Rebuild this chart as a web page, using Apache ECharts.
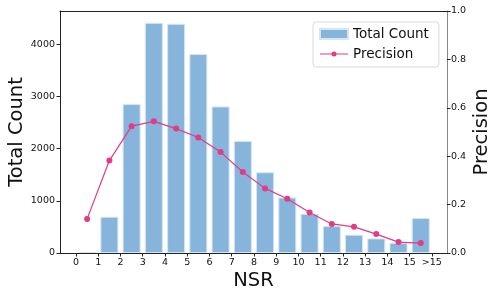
<!DOCTYPE html>
<html>
<head>
<meta charset="utf-8">
<script src="https://cdn.jsdelivr.net/npm/echarts@6/dist/echarts.min.js"></script>
<style>html,body{margin:0;padding:0;background:#fff}#c{width:498px;height:299px}</style>
</head>
<body>
<div id="c"></div>
<script>
// Data
const tickLabels = ['0','1','2','3','4','5','6','7','8','9','10','11','12','13','14','15','>15'];
const binCenters = [0.5,1.5,2.5,3.5,4.5,5.5,6.5,7.5,8.5,9.5,10.5,11.5,12.5,13.5,14.5,15.5];
const totalCount = [20,695,2855,4413,4394,3814,2810,2147,1548,1064,752,517,350,280,197,670];
const precision = [0.141,0.382,0.524,0.544,0.514,0.477,0.417,0.335,0.267,0.224,0.167,0.120,0.108,0.078,0.045,0.041];

const font = 'DejaVu Sans';
const chart = echarts.init(document.getElementById('c'), null, {renderer:'canvas'});
const tickVals = tickLabels.map((_, i) => i);
chart.setOption({
  animation: false,
  textStyle: {fontFamily: font},
  grid: {left: 60, top: 11, right: 51, bottom: 46, containLabel: false, outerBoundsMode: 'none'},
  legend: {
    orient: 'vertical', left: 313, top: 22,
    padding: [5, 10, 6, 6], itemGap: 6, itemWidth: 28, itemHeight: 10,
    symbolKeepAspect: true,
    backgroundColor: 'rgba(255,255,255,0.8)', borderColor: '#d9d9d9', borderWidth: 1, borderRadius: 3,
    textStyle: {fontFamily: font, fontSize: 13.5, color: '#111', lineHeight: 14},
    data: [
      {name:'Total Count', icon:'rect'},
      {name:'Precision', icon:'path://M0,2H28V3H0Z M16.5,2.5A2.5,2.5 0 1 1 11.5,2.5A2.5,2.5 0 1 1 16.5,2.5Z'}
    ]
  },
  xAxis: [{
    type: 'value', min: -0.72, max: 16.68,
    name: 'NSR', nameLocation: 'middle', nameGap: 18, nameMoveOverlap: false,
    nameTextStyle: {fontFamily: font, fontSize: 19.5, color: '#111'},
    axisLine: {show: true, onZero: false, lineStyle: {color: '#222', width: 1}},
    axisTick: {show: true, length: 3.5, customValues: tickVals, lineStyle: {color: '#222'}},
    axisLabel: {customValues: tickVals, formatter: v => tickLabels[Math.round(v)], fontFamily: font, fontSize: 9.5, color: '#111', margin: 5},
    splitLine: {show: false}
  }, {
    type: 'value', position: 'top', min: -0.72, max: 16.68,
    axisLine: {show: true, onZero: false, lineStyle: {color: '#222', width: 1}},
    axisTick: {show: false}, axisLabel: {show: false}, splitLine: {show: false}
  }],
  yAxis: [{
    type: 'value', min: 0, max: 4640, interval: 1000, position: 'left',
    name: 'Total Count', nameLocation: 'middle', nameGap: 33, nameMoveOverlap: false,
    nameTextStyle: {fontFamily: font, fontSize: 19.5, color: '#111'},
    axisLine: {show: true, onZero: false, lineStyle: {color: '#222', width: 1}},
    axisTick: {show: true, length: 3.5, lineStyle: {color: '#222'}},
    axisLabel: {fontFamily: font, fontSize: 9.5, color: '#111', margin: 5, showMaxLabel: false, formatter: v => String(v)},
    splitLine: {show: false}
  }, {
    type: 'value', min: 0, max: 1.0, interval: 0.2, position: 'right',
    name: 'Precision', nameLocation: 'middle', nameGap: 25, nameRotate: 90, nameMoveOverlap: false,
    nameTextStyle: {fontFamily: font, fontSize: 19.5, color: '#111'},
    axisLine: {show: true, onZero: false, lineStyle: {color: '#888', width: 1}},
    axisTick: {show: true, length: 3.5, lineStyle: {color: '#222'}},
    axisLabel: {fontFamily: font, fontSize: 9.5, color: '#111', margin: 4, formatter: v => v.toFixed(1)},
    splitLine: {show: false}
  }],
  series: [{
    name: 'Total Count', type: 'bar', xAxisIndex: 0, yAxisIndex: 0,
    barWidth: 18,
    itemStyle: {color: '#86b4da', borderColor: '#d4e5f3', borderWidth: 1},
    data: binCenters.map((x, i) => [x, totalCount[i]])
  }, {
    name: 'Precision', type: 'line', xAxisIndex: 0, yAxisIndex: 1,
    symbol: 'circle', symbolSize: 6,
    lineStyle: {color: '#e33b84', width: 1.2},
    itemStyle: {color: '#e33b84'},
    data: binCenters.map((x, i) => [x, precision[i]])
  }]
});
</script>
</body>
</html>
